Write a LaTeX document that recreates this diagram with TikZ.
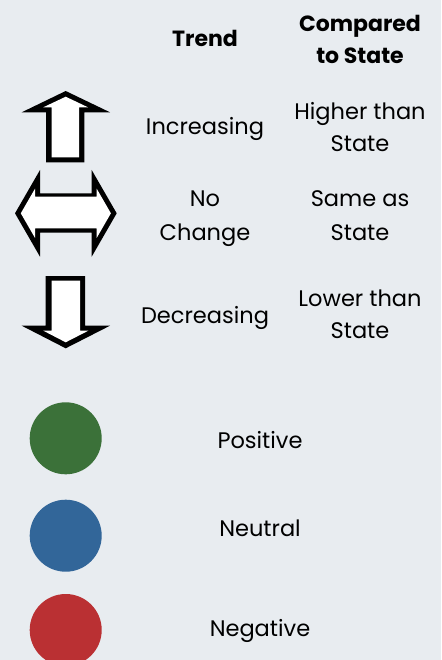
\documentclass[tikz,border=0pt]{standalone}
\usepackage{fontspec}
\setmainfont{Poppins}
\definecolor{bg}{HTML}{E8ECF0}
\definecolor{posgreen}{HTML}{3B7139}
\definecolor{neublue}{HTML}{326699}
\definecolor{negred}{HTML}{BA3033}
\begin{document}
\begin{tikzpicture}[x=1pt,y=-1pt,
  lbl/.style={inner sep=0pt,anchor=base,font=\fontsize{22.5}{32}\selectfont},
  hdr/.style={inner sep=0pt,anchor=base,font=\fontsize{22}{32}\selectfont\bfseries},
  dot/.style={circle,inner sep=0pt,minimum size=72pt}]
\fill[bg] (0,0) rectangle (441,660);
\useasboundingbox (0,0) rectangle (441,660);
% header
\node[hdr] (trend) at (205,46.7) {Trend};
\node[hdr] (cmp1) at (360,31.7) {Compared};
\node[hdr] (cmp2) at (360,63.3) {to State};
% up arrow
\fill[black] (65.7,91) -- (110,112.3) -- (84.3,112.3) -- (84.3,162.3) -- (46,162.3) -- (46,112.3) -- (21.7,112.3) -- cycle;
\fill[white] (65.7,96.7) -- (88,107.3) -- (79,107.3) -- (79,157.3) -- (51.7,157.3) -- (51.7,107.3) -- (43.3,107.3) -- cycle;
% left-right arrow
\fill[black] (15,213.3) -- (40,170) -- (40,193.3) -- (91.7,193.3) -- (91.7,170) -- (116.7,213.3) -- (91.7,256.7) -- (91.7,232.7) -- (40,232.7) -- (40,256.7) -- cycle;
\fill[white] (20.8,213.3) -- (35,188.7) -- (35,196.7) -- (96.7,196.7) -- (96.7,188.7) -- (110.9,213.3) -- (96.7,237.9) -- (96.7,228.3) -- (35,228.3) -- (35,237.9) -- cycle;
% down arrow
\fill[black] (45.7,276) -- (85,276) -- (85,325.7) -- (110,325.7) -- (65.7,348.3) -- (21.7,325.7) -- (45.7,325.7) -- cycle;
\fill[white] (51.7,280.7) -- (80,280.7) -- (80,330.7) -- (88.3,330.7) -- (65.7,342.3) -- (43.3,330.7) -- (51.7,330.7) -- cycle;
% trend labels
\node[lbl] (inc) at (205,135) {Increasing};
\node[lbl] (hi1) at (360,120) {Higher than};
\node[lbl] (hi2) at (360,151.7) {State};
\node[lbl] (nc1) at (205,206.7) {No};
\node[lbl] (nc2) at (205,240) {Change};
\node[lbl] (sa1) at (360,206.7) {Same as};
\node[lbl] (sa2) at (360,240) {State};
\node[lbl] (dec) at (205,323.3) {Decreasing};
\node[lbl] (lo1) at (360,306.7) {Lower than};
\node[lbl] (lo2) at (360,338.3) {State};
% circles
\node[dot,fill=posgreen] (pos) at (65.7,438.3) {};
\node[dot,fill=neublue] (neu) at (65.7,535.7) {};
\node[dot,fill=negred] (neg) at (65.7,630) {};
\node[lbl] (post) at (260,448.3) {Positive};
\node[lbl] (neut) at (260,536.7) {Neutral};
\node[lbl] (negt) at (260,636.7) {Negative};
\end{tikzpicture}
\end{document}
